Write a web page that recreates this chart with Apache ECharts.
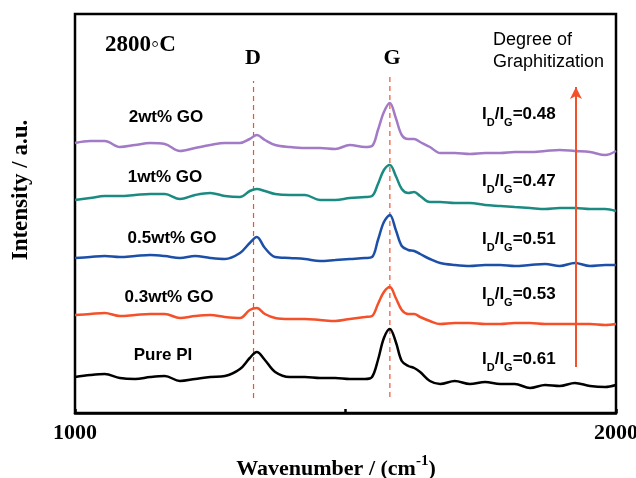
<!DOCTYPE html>
<html><head><meta charset="utf-8">
<script src="https://cdn.jsdelivr.net/npm/echarts@6/dist/echarts.min.js"></script>
<style>html,body{margin:0;padding:0;background:#fff}#c{width:636px;height:478px}</style>
</head><body><div id="c"></div>
<script>
// Wavenumber grid (cm^-1)
var wavenumbers = [1000,1028,1055,1083,1111,1139,1166,1194,1222,1250,1277,1305,1323,1336,1351,1370,1397,1425,1453,1481,1508,1536,1549,1560,1571,1582,1593,1604,1616,1627,1638,1656,1675,1702,1730,1758,1786,1813,1841,1869,1896,1924,1952,1980,2000];
// Offset intensities (a.u.)
var go2 = [270,272,272,266,268,270,269,262,265,268,270,270,274,278,273,268,266,265,265,264,268,266,267,283,301,310,295,278,274,274,271,266,260,260,259,260,260,261,261,262,263,262,261,258,262];
var go1 = [213,215,217,217,218,219,219,214,218,220,217,216,222,224,222,219,218,218,213,213,215,216,217,229,243,248,237,224,220,221,217,211,211,210,210,208,207,206,205,204,205,205,204,204,202];
var go05 = [155,156,157,156,157,158,157,155,157,155,154,160,170,176,165,156,155,154,152,153,154,155,156,173,191,198,183,167,163,162,159,154,150,148,147,148,148,147,148,149,147,150,147,148,148];
var go03 = [98,99,100,97,98,99,99,95,97,98,96,95,103,105,99,95,94,94,93,92,94,96,97,109,121,126,115,103,99,99,96,92,89,90,90,89,89,90,90,89,89,89,89,88,89];
var purePI = [36,38,39,35,34,36,37,32,34,36,37,44,55,61,53,41,36,36,35,35,34,34,36,53,75,84,71,52,47,45,41,32,29,32,29,31,29,29,25,28,27,30,27,26,28];
var seriesNames = ['2wt% GO','1wt% GO','0.5wt% GO','0.3wt% GO','Pure PI'];
var ratios = ['0.48','0.47','0.51','0.53','0.61'];
var xTicks = [1000,1500,2000];
var dBand = 1330, gBand = 1582;
var dRange = [15,332], gRange = [16,340];
var arrowX = 1926, arrowRange = [46,326];

var colors = ['#a27ac6','#1b8b82','#1c4fa8','#f4502a','#000000'];
var allData = [go2,go1,go05,go03,purePI];
function pairs(arr){return wavenumbers.map(function(w,i){return [w,arr[i]];});}

var series = allData.map(function(d,i){
  return {type:'line',name:seriesNames[i],data:pairs(d),smooth:0.35,showSymbol:false,
    lineStyle:{color:colors[i],width:2.5},z:3};
});
series.push({type:'line',data:[[dBand,dRange[0]],[dBand,dRange[1]]],showSymbol:false,
  lineStyle:{color:'#f4502a',width:1.2,type:[5,4]},z:2});
series.push({type:'line',data:[[gBand,gRange[0]],[gBand,gRange[1]]],showSymbol:false,
  lineStyle:{color:'#f4502a',width:1.2,type:[5,4]},z:2});
series.push({type:'line',data:[],markLine:{silent:true,symbol:['none','arrow'],symbolSize:[9,12],
  label:{show:false},lineStyle:{color:'#f4502a',width:2,type:'solid'},
  data:[[{coord:[arrowX,arrowRange[0]]},{coord:[arrowX,arrowRange[1]]}]]}});

var labelY = [117,177,238,297,355];
var labelX = [166,165,172,169,163];
var ratioY = [117,184,242,297,362];
var graphic = [];
labelY.forEach(function(y,i){
  graphic.push({type:'text',x:labelX[i],y:y,style:{text:seriesNames[i],align:'center',verticalAlign:'middle',
    font:'bold 17px "Liberation Sans", Arial',fill:'#000'}});
});
ratioY.forEach(function(y,i){
  graphic.push({type:'text',x:482,y:y-11,style:{
    text:'{b|I}{s|D}{b|/I}{s|G}{b|='+ratios[i]+'}',
    rich:{b:{font:'bold 17px "Liberation Sans", Arial',fill:'#000',lineHeight:22,verticalAlign:'top'},
          s:{font:'bold 11px "Liberation Sans", Arial',fill:'#000',lineHeight:12,verticalAlign:'bottom'}}}});
});
graphic.push({type:'text',x:105,y:45,style:{text:'2800\u25E6C',verticalAlign:'middle',font:'bold 23px "Liberation Serif", serif',fill:'#000'}});
graphic.push({type:'text',x:253,y:58,style:{text:'D',align:'center',verticalAlign:'middle',font:'bold 22px "Liberation Serif", serif',fill:'#000'}});
graphic.push({type:'text',x:392,y:58,style:{text:'G',align:'center',verticalAlign:'middle',font:'bold 22px "Liberation Serif", serif',fill:'#000'}});
graphic.push({type:'text',x:493,y:29,style:{text:'Degree of\nGraphitization',lineHeight:22,font:'18px "Liberation Sans", Arial',fill:'#000'}});
graphic.push({type:'text',x:21,y:190,rotation:Math.PI/2,
  style:{text:'Intensity / a.u.',font:'bold 23px "Liberation Serif", serif',fill:'#000',align:'center',verticalAlign:'middle'}});
graphic.push({type:'text',x:336,y:467,style:{
  text:'{t|Wavenumber / (cm}{u|-1}{t|)}',align:'center',verticalAlign:'middle',
  rich:{t:{font:'bold 22px "Liberation Serif", serif',fill:'#000',lineHeight:26,verticalAlign:'bottom'},
        u:{font:'bold 15px "Liberation Serif", serif',fill:'#000',lineHeight:16,verticalAlign:'top'}}}});

var chart = echarts.init(document.getElementById('c'));
chart.setOption({
  animation:false,
  grid:{left:75,right:20,top:14,bottom:65,containLabel:false,outerBoundsMode:'none',show:true,borderColor:'#000',borderWidth:2.5,backgroundColor:'transparent'},
  xAxis:{type:'value',min:1000,max:2000,interval:500,
    axisLine:{show:true,lineStyle:{color:'#000',width:2.5}},
    axisTick:{show:true,inside:true,length:4,lineStyle:{color:'#000',width:2.5}},
    splitLine:{show:false},
    axisLabel:{margin:9,formatter:function(v){return (v===xTicks[0]||v===xTicks[2])?String(v):'';},
      fontFamily:'"Liberation Serif", serif',fontWeight:'bold',fontSize:22,color:'#000'}},
  yAxis:{type:'value',min:0,max:399,show:false},
  series:series,
  graphic:graphic
});
</script></body></html>
